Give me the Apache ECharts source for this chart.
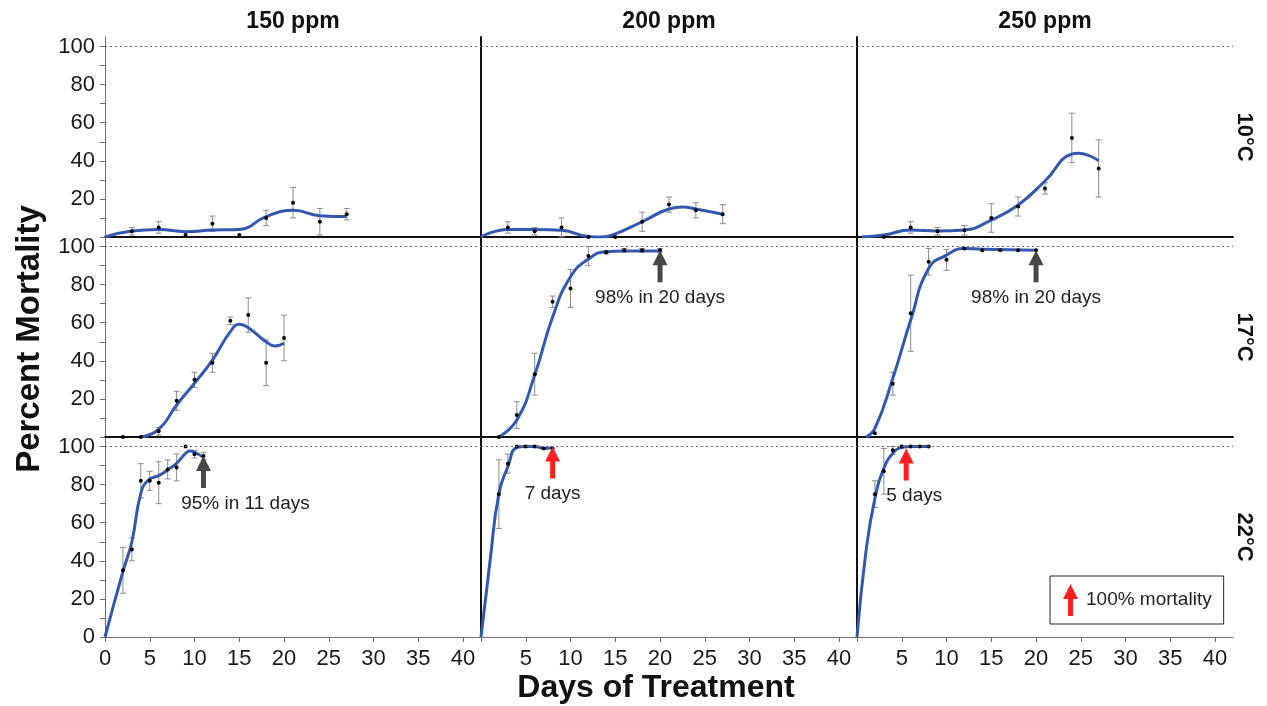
<!DOCTYPE html>
<html><head><meta charset="utf-8">
<script src="https://cdn.jsdelivr.net/npm/echarts@6/dist/echarts.min.js"></script>
<style>html,body{margin:0;padding:0;background:#fff}#chart{width:1267px;height:706px}</style>
</head><body><div id="chart"></div>
<script>
// ---------- labels / ticks ----------
const columns = ['150 ppm', '200 ppm', '250 ppm'];
const rowLabels = ['10°C', '17°C', '22°C'];
const xTickValues = [0, 5, 10, 15, 20, 25, 30, 35, 40];
const yLabelValues = [0, 20, 40, 60, 80, 100];
const yTickValues = [0, 10, 20, 30, 40, 50, 60, 70, 80, 90, 100];

// ---------- 150 ppm, 10°C ----------
const days_150_10 = [3, 6, 9, 12, 15, 18, 21, 24, 27];
const mean_150_10 = [3, 5, 1, 7, 1, 10, 18, 8, 12];
const err_150_10  = [2, 3, 0, 4, 0, 4, 8, 7, 3];
const fitDays_150_10 = [0, 3, 6, 9, 12, 15, 18, 21, 24, 27];
const fit_150_10     = [0, 3.2, 4, 2.8, 3.7, 4, 10.7, 14, 11.2, 10.7];
// ---------- 200 ppm, 10°C ----------
const days_200_10 = [3, 6, 9, 12, 15, 18, 21, 24, 27];
const mean_200_10 = [5, 3, 5, 0, 0, 8, 17, 14, 12];
const err_200_10  = [3, 2, 5, 0, 0, 5, 4, 4, 5];
const fitDays_200_10 = [0, 3, 6, 9, 12, 13.5, 15, 18, 21, 22.5, 24, 27];
const fit_200_10     = [0, 4, 4, 3.5, 0.3, 0, 1.6, 8, 14.7, 15.7, 14.7, 11.9];
// ---------- 250 ppm, 10°C ----------
const days_250_10 = [3, 6, 9, 12, 15, 18, 21, 24, 27];
const mean_250_10 = [0, 5, 3, 3.5, 10, 16, 25.5, 52, 36];
const err_250_10  = [0, 3, 2, 2.5, 7.5, 5, 3, 13, 15];
const fitDays_250_10 = [0.5, 3, 6, 9, 12, 15, 18, 21, 24, 24.7, 27];
const fit_250_10     = [0, 1, 3.7, 3.2, 3.7, 8.9, 16.8, 29.4, 43.6, 44, 40];
// ---------- 150 ppm, 17°C ----------
const days_150_17 = [2, 4, 6, 8, 10, 12, 14, 16, 18, 20];
const mean_150_17 = [0, 0, 3, 19, 30, 39, 61, 64, 39, 52];
const err_150_17  = [0, 0, 2, 5, 4, 5, 2, 9, 12, 12];
const fitDays_150_17 = [4, 6, 8, 10, 12, 14, 15, 16, 18, 19, 20];
const fit_150_17     = [0, 4, 16.8, 28.2, 40.4, 55.3, 59.2, 57.4, 50, 47.8, 49.2];
// ---------- 200 ppm, 17°C ----------
const days_200_17 = [2, 4, 6, 8, 10, 12, 14, 16, 18, 20];
const mean_200_17 = [0, 11.5, 33, 71, 78, 95, 97, 98, 98, 98];
const err_200_17  = [0, 7, 11, 3, 10, 5, 1, 1, 1, 1];
const fitDays_200_17 = [2, 4, 6, 8, 10, 12, 14, 16, 20];
const fit_200_17     = [0, 8.9, 32.5, 63, 84.1, 93.4, 97.3, 97.6, 97.6];
// ---------- 250 ppm, 17°C ----------
const days_250_17 = [2, 4, 6, 8, 10, 12, 14, 16, 18, 20];
const mean_250_17 = [2, 28, 65, 92, 93, 99, 98, 98, 98, 98];
const err_250_17  = [0, 6, 20, 7, 5.5, 0, 0, 0, 0, 0];
const fitDays_250_17 = [1, 2, 4, 6, 8, 10, 12, 14, 20];
const fit_250_17     = [0, 4.5, 30.8, 61.4, 88.5, 95.5, 99, 98.6, 98];
// ---------- 150 ppm, 22°C ----------
const days_150_22 = [2, 3, 4, 5, 6, 7, 8, 9, 10, 11];
const mean_150_22 = [35, 46, 82, 82, 81, 88, 89, 100, 96, 95];
const err_150_22  = [12, 6, 9, 5, 11, 5, 7, 0, 2, 2];
const fitDays_150_22 = [0, 2, 3, 4, 4.85, 6, 7, 8, 9, 9.5, 10, 11];
const fit_150_22     = [0, 34.3, 50, 75.4, 82.4, 84.7, 87.7, 91.2, 96.4, 97.6, 97, 94.3];
// ---------- 200 ppm, 22°C ----------
const days_200_22 = [2, 3, 4, 5, 6, 7, 8];
const mean_200_22 = [75, 91, 100, 100, 100, 99, 99];
const err_200_22  = [18, 5, 0, 0, 0, 0, 0];
const fitDays_200_22 = [0, 1, 2, 3, 4, 5, 6, 7, 8];
const fit_200_22     = [0, 39.5, 75.4, 89.4, 99.5, 100, 100, 99, 99.5];
// ---------- 250 ppm, 22°C ----------
const days_250_22 = [2, 3, 4, 5, 6, 7, 8];
const mean_250_22 = [75, 87, 98, 100, 100, 100, 100];
const err_250_22  = [7, 12, 2, 0, 0, 0, 0];
const fitDays_250_22 = [0, 1, 2, 3, 4, 5, 6, 8];
const fit_250_22     = [0, 44.8, 72.8, 88.5, 96.4, 99.5, 100, 100];

// ---------- annotations (panel index: row*3+col) ----------
const notePanels = [4, 5, 6, 7, 8];
const noteDays   = [20, 20, 11, 8, 5.5];
const noteValues = [98, 98, 95, 100, 99];
const noteTexts  = ['98% in 20 days', '98% in 20 days', '95% in 11 days', '7 days', '5 days'];
const noteRed    = [false, false, false, true, true];
const legendName = '100% mortality';

const panels = [
  [days_150_10, mean_150_10, err_150_10, fitDays_150_10, fit_150_10],
  [days_200_10, mean_200_10, err_200_10, fitDays_200_10, fit_200_10],
  [days_250_10, mean_250_10, err_250_10, fitDays_250_10, fit_250_10],
  [days_150_17, mean_150_17, err_150_17, fitDays_150_17, fit_150_17],
  [days_200_17, mean_200_17, err_200_17, fitDays_200_17, fit_200_17],
  [days_250_17, mean_250_17, err_250_17, fitDays_250_17, fit_250_17],
  [days_150_22, mean_150_22, err_150_22, fitDays_150_22, fit_150_22],
  [days_200_22, mean_200_22, err_200_22, fitDays_200_22, fit_200_22],
  [days_250_22, mean_250_22, err_250_22, fitDays_250_22, fit_250_22]
];

// ---------- styling / layout ----------
const FONT = '"Liberation Sans", Arial, sans-serif';
const BLUE = '#3358b0';
const RED = '#ff1f1f';
const DARK = '#474747';
const AXIS_GRAY = '#6e6e6e';
const GRID_LEFT = [105, 481, 857];
const GRID_TOP = [37, 237, 437];
const GRID_W = 376, GRID_H = 200;
const ARROW = 'path://M7.5 0 L15 15 L10 15 L10 32 L5 32 L5 15 L0 15 Z';

const grids = [], xAxes = [], yAxes = [], series = [];

function errRender(params, api) {
  const x = api.value(0), lo = api.value(1), hi = api.value(2);
  const a = api.coord([x, lo]), b = api.coord([x, hi]);
  const w = 3;
  const st = { stroke: '#8c8c8c', lineWidth: 1 };
  return { type: 'group', children: [
    { type: 'line', shape: { x1: a[0], y1: a[1], x2: b[0], y2: b[1] }, style: st },
    { type: 'line', shape: { x1: a[0] - w, y1: a[1], x2: a[0] + w, y2: a[1] }, style: st },
    { type: 'line', shape: { x1: b[0] - w, y1: b[1], x2: b[0] + w, y2: b[1] }, style: st }
  ]};
}

for (let r = 0; r < 3; r++) {
  for (let c = 0; c < 3; c++) {
    const g = r * 3 + c;
    grids.push({ left: GRID_LEFT[c], top: GRID_TOP[r], width: GRID_W, height: GRID_H, containLabel: false });
    xAxes.push({
      gridIndex: g, type: 'value', min: 0, max: 42,
      axisLine: { show: true, onZero: false, lineStyle: { color: r === 2 ? AXIS_GRAY : '#111', width: r === 2 ? 1 : 2 } },
      axisTick: { show: r === 2, customValues: xTickValues, length: 5, lineStyle: { color: AXIS_GRAY } },
      axisLabel: { show: r === 2, customValues: c === 0 ? xTickValues : xTickValues.slice(1),
        fontSize: 22, color: '#1a1a1a', fontFamily: FONT, margin: 11 },
      splitLine: { show: false }
    });
    yAxes.push({
      gridIndex: g, type: 'value', min: 0, max: 105,
      axisLine: { show: true, onZero: false, lineStyle: { color: c === 0 ? AXIS_GRAY : '#111', width: c === 0 ? 1 : 2 } },
      axisTick: { show: c === 0, customValues: yTickValues, length: 5, lineStyle: { color: AXIS_GRAY } },
      axisLabel: { show: c === 0, customValues: r === 2 ? yLabelValues : yLabelValues.slice(1),
        fontSize: 22, color: '#1a1a1a', fontFamily: FONT, margin: 10 },
      splitLine: { show: false }
    });

    const [days, mean, err, fitDays, fit] = panels[g];
    const errData = [];
    days.forEach((d, i) => { if (err[i] > 0) errData.push([d, Math.max(0, mean[i] - err[i]), mean[i] + err[i]]); });
    series.push({ type: 'custom', xAxisIndex: g, yAxisIndex: g, z: 2, silent: true,
      renderItem: errRender, encode: { x: 0, y: [1, 2] }, data: errData });

    const notes = [];
    notePanels.forEach((p, k) => {
      if (p !== g) return;
      const col = noteRed[k] ? RED : DARK;
      let offX = 0;
      if (noteTexts[k].startsWith('95%')) offX = 42;
      if (noteTexts[k] === '5 days') offX = 8;
      notes.push({
        coord: [noteDays[k], noteValues[k]], symbol: ARROW, symbolSize: [15, 32], symbolOffset: [0, 16],
        itemStyle: { color: col, opacity: 1 },
        label: { show: true, formatter: noteTexts[k], position: 'bottom', distance: 6, offset: [offX, 0],
          fontSize: 19, color: '#222', fontFamily: FONT }
      });
    });

    series.push({
      type: 'line', xAxisIndex: g, yAxisIndex: g, z: 3, smooth: 0.5, showSymbol: false, silent: true,
      data: fitDays.map((d, i) => [d, fit[i]]),
      lineStyle: { color: BLUE, width: 3 },
      markLine: { silent: true, symbol: ['none', 'none'], label: { show: false },
        lineStyle: { type: [2, 3], color: '#666', width: 1 }, data: [{ yAxis: 100 }] },
      markPoint: notes.length ? { silent: true, data: notes } : undefined
    });
    series.push({ type: 'scatter', xAxisIndex: g, yAxisIndex: g, z: 4, silent: true, symbolSize: 4,
      itemStyle: { color: '#000', opacity: 1 }, data: days.map((d, i) => [d, mean[i]]) });
  }
}
series.push({ type: 'scatter', name: legendName, xAxisIndex: 8, yAxisIndex: 8, data: [],
  itemStyle: { color: RED, opacity: 1 } });

const graphics = [];
columns.forEach((t, c) => graphics.push({ type: 'text', x: GRID_LEFT[c] + GRID_W / 2, y: 22,
  style: { text: t, font: 'bold 23px ' + FONT, fill: '#111', textAlign: 'center', textVerticalAlign: 'middle' } }));
rowLabels.forEach((t, r) => graphics.push({ type: 'text', x: 1244, y: GRID_TOP[r] + GRID_H / 2, rotation: -Math.PI / 2,
  style: { text: t, font: 'bold 22px ' + FONT, fill: '#111', textAlign: 'center', textVerticalAlign: 'middle' } }));
graphics.push({ type: 'text', x: 30, y: 339, rotation: Math.PI / 2,
  style: { text: 'Percent Mortality', font: 'bold 33px ' + FONT, fill: '#111', textAlign: 'center', textVerticalAlign: 'middle' } });
graphics.push({ type: 'text', x: 656, y: 688,
  style: { text: 'Days of Treatment', font: 'bold 32px ' + FONT, fill: '#111', textAlign: 'center', textVerticalAlign: 'middle' } });

const chart = echarts.init(document.getElementById('chart'), null, { renderer: 'canvas' });
chart.setOption({
  animation: false,
  backgroundColor: '#fff',
  grid: grids, xAxis: xAxes, yAxis: yAxes, series: series, graphic: graphics,
  legend: {
    data: [{ name: legendName, icon: ARROW, itemStyle: { color: RED, opacity: 1 } }], selectedMode: false,
    left: 1050, top: 576, itemWidth: 15, itemHeight: 32, padding: [8, 12, 8, 13],
    borderColor: '#222', borderWidth: 1,
    textStyle: { fontSize: 19, color: '#222', fontFamily: FONT, padding: [0, 0, 0, 3] }
  }
});
</script></body></html>
